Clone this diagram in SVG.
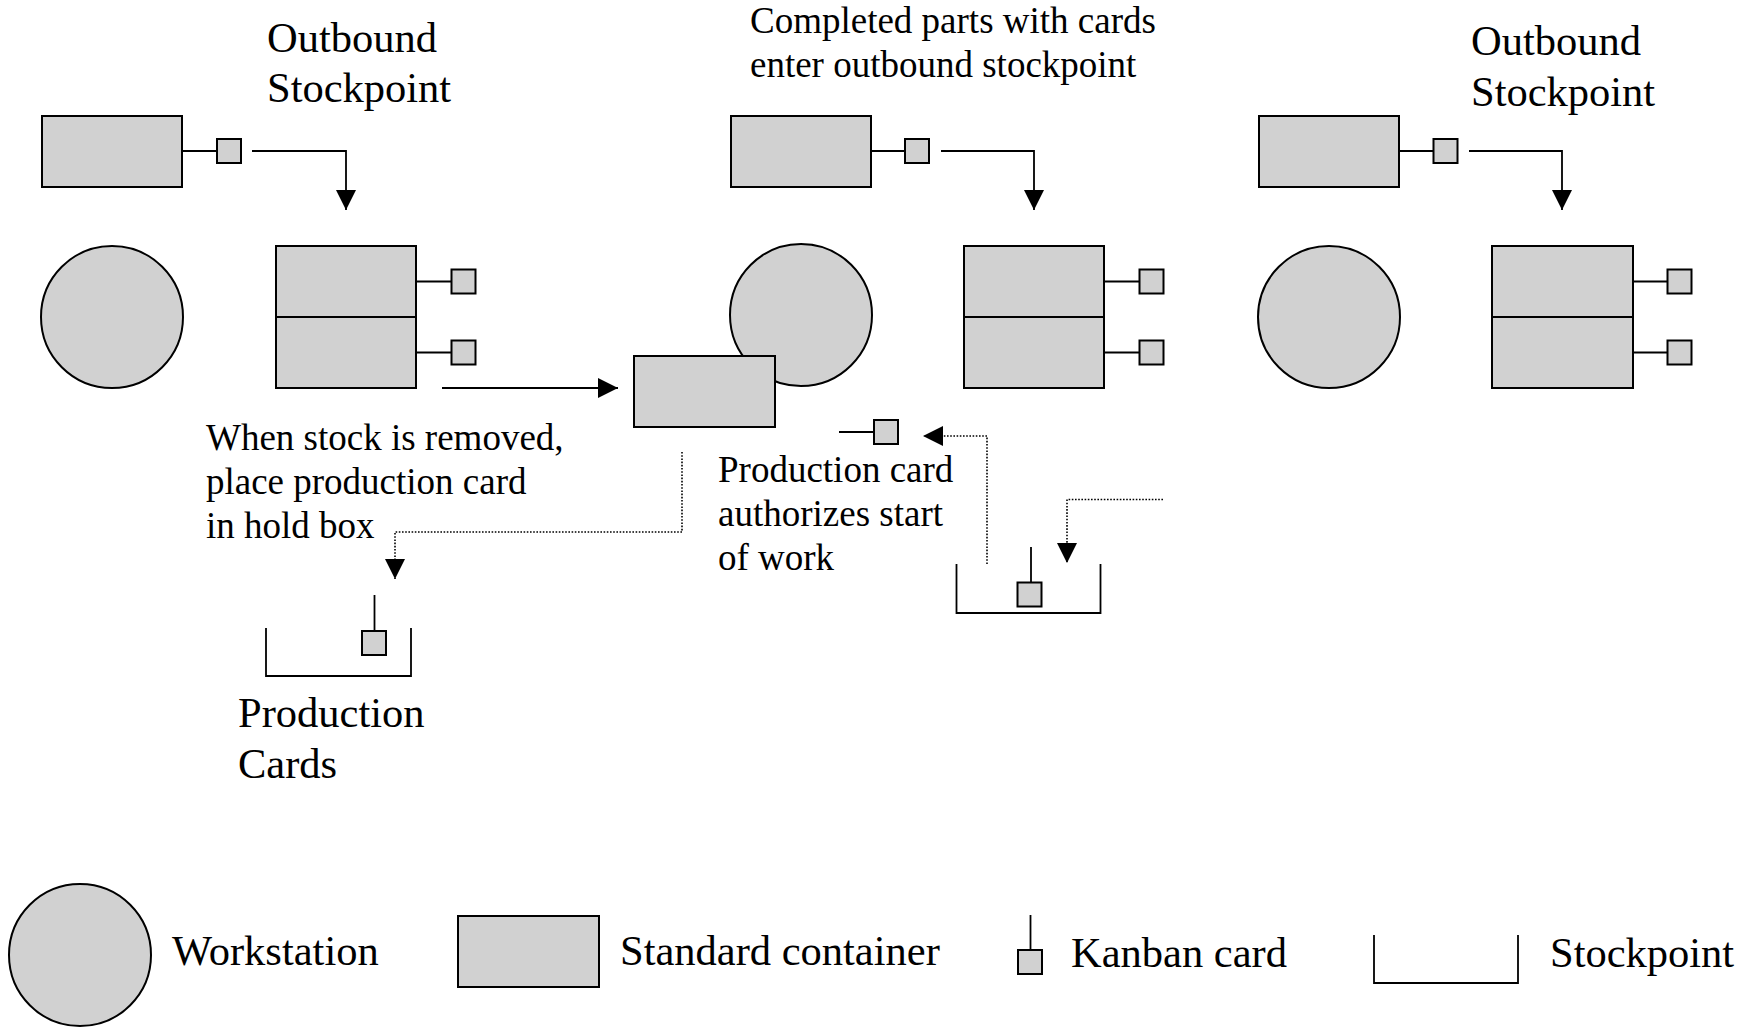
<svg xmlns="http://www.w3.org/2000/svg" width="1746" height="1032" viewBox="0 0 1746 1032">
  <style>
    .box { fill: #d1d1d1; stroke: #000; stroke-width: 2; }
    .ln { fill: none; stroke: #000; stroke-width: 1.8; }
    .dot { fill: none; stroke: #000; stroke-width: 1.6; stroke-dasharray: 1.6 1.6; }
    .t { font-family: "Liberation Serif", "Times New Roman", serif; fill: #000; }
    .big { font-size: 42.5px; }
    .mid { font-size: 37px; }
  </style>
  <defs>
    <marker id="head" viewBox="0 0 20 20" refX="20" refY="10" markerWidth="20" markerHeight="20" markerUnits="userSpaceOnUse" orient="auto">
      <path d="M0,0 L20,10 L0,20 Z" fill="#000"/>
    </marker>
  </defs>
  <rect width="1746" height="1032" fill="#fff"/>

  <!-- Station 1 -->
  <g id="ws1-container">
    <rect class="box" x="42" y="116" width="140" height="71"/>
    <line class="ln" x1="182" y1="151" x2="217" y2="151"/>
    <rect class="box" x="217" y="139" width="24" height="24"/>
  </g>
  <g id="ws1">
    <circle class="box" cx="112" cy="317" r="71"/>
  </g>
  <g id="ws1-stockpoint">
    <rect class="box" x="276" y="246" width="140" height="71"/>
    <rect class="box" x="276" y="317" width="140" height="71"/>
    <line class="ln" x1="416" y1="281.5" x2="451.5" y2="281.5"/>
    <rect class="box" x="451.5" y="269.5" width="24" height="24"/>
    <line class="ln" x1="416" y1="352.5" x2="451.5" y2="352.5"/>
    <rect class="box" x="451.5" y="340.5" width="24" height="24"/>
  </g>
  <g id="label-outbound-1">
    <text class="t big" x="267" y="52">Outbound</text>
    <text class="t big" x="267" y="102">Stockpoint</text>
  </g>

  <!-- Station 2 -->
  <g id="ws2-container">
    <rect class="box" x="731" y="116" width="140" height="71"/>
    <line class="ln" x1="871" y1="151" x2="905" y2="151"/>
    <rect class="box" x="905" y="139" width="24" height="24"/>
  </g>
  <g id="ws2">
    <circle class="box" cx="801" cy="315" r="71"/>
  </g>
  <g id="ws2-input-container">
    <rect class="box" x="634" y="356" width="141" height="71"/>
  </g>
  <g id="ws2-stockpoint">
    <rect class="box" x="964" y="246" width="140" height="71"/>
    <rect class="box" x="964" y="317" width="140" height="71"/>
    <line class="ln" x1="1104" y1="281.5" x2="1139.5" y2="281.5"/>
    <rect class="box" x="1139.5" y="269.5" width="24" height="24"/>
    <line class="ln" x1="1104" y1="352.5" x2="1139.5" y2="352.5"/>
    <rect class="box" x="1139.5" y="340.5" width="24" height="24"/>
  </g>
  <g id="label-completed">
    <text class="t mid" x="750" y="33">Completed parts with cards</text>
    <text class="t mid" x="750" y="77">enter outbound stockpoint</text>
  </g>
  <g id="ws2-card">
    <line class="ln" x1="839" y1="432" x2="874" y2="432"/>
    <rect class="box" x="874" y="420" width="24" height="24"/>
  </g>
  <g id="label-authorizes">
    <text class="t mid" x="718" y="482">Production card</text>
    <text class="t mid" x="718" y="526">authorizes start</text>
    <text class="t mid" x="718" y="570">of work</text>
  </g>
  <g id="hold-box-2">
    <path class="ln" d="M956.5,564 V613 H1100.5 V564"/>
    <line class="ln" x1="1031" y1="547" x2="1031" y2="582.5"/>
    <rect class="box" x="1017.5" y="582.5" width="24" height="24"/>
  </g>

  <!-- Station 3 -->
  <g id="ws3-container">
    <rect class="box" x="1259" y="116" width="140" height="71"/>
    <line class="ln" x1="1399" y1="151" x2="1433.5" y2="151"/>
    <rect class="box" x="1433.5" y="139" width="24" height="24"/>
  </g>
  <g id="ws3">
    <circle class="box" cx="1329" cy="317" r="71"/>
  </g>
  <g id="ws3-stockpoint">
    <rect class="box" x="1492" y="246" width="141" height="71"/>
    <rect class="box" x="1492" y="317" width="141" height="71"/>
    <line class="ln" x1="1633" y1="281.5" x2="1667.5" y2="281.5"/>
    <rect class="box" x="1667.5" y="269.5" width="24" height="24"/>
    <line class="ln" x1="1633" y1="352.5" x2="1667.5" y2="352.5"/>
    <rect class="box" x="1667.5" y="340.5" width="24" height="24"/>
  </g>
  <g id="label-outbound-3">
    <text class="t big" x="1471" y="55">Outbound</text>
    <text class="t big" x="1471" y="106">Stockpoint</text>
  </g>

  <!-- Production card hold box -->
  <g id="label-removed">
    <text class="t mid" x="206" y="450">When stock is removed,</text>
    <text class="t mid" x="206" y="494">place production card</text>
    <text class="t mid" x="206" y="538">in hold box</text>
  </g>
  <g id="hold-box-1">
    <path class="ln" d="M266,628 V676 H411 V628"/>
    <line class="ln" x1="374.5" y1="595" x2="374.5" y2="631"/>
    <rect class="box" x="362" y="631" width="24" height="24"/>
  </g>
  <g id="label-production-cards">
    <text class="t big" x="238" y="727">Production</text>
    <text class="t big" x="238" y="778">Cards</text>
  </g>

  <!-- Connectors -->
  <g id="connectors">
    <path class="ln" d="M252,151 H346 V210" marker-end="url(#head)"/>
    <path class="ln" d="M941,151 H1034 V210" marker-end="url(#head)"/>
    <path class="ln" d="M1469,151 H1562 V210" marker-end="url(#head)"/>
    <path class="ln" d="M442,388 H618" marker-end="url(#head)"/>
    <path class="dot" d="M682,452 V532 H395 V579" marker-end="url(#head)"/>
    <path class="dot" d="M987,564 V436 H923" marker-end="url(#head)"/>
    <path class="dot" d="M1163,499.5 H1067 V563" marker-end="url(#head)"/>
  </g>

  <!-- Legend -->
  <g id="legend-workstation">
    <circle class="box" cx="80" cy="955" r="71"/>
    <text class="t big" x="172" y="965">Workstation</text>
  </g>
  <g id="legend-container">
    <rect class="box" x="458" y="916" width="141" height="71"/>
    <text class="t big" x="620" y="965">Standard container</text>
  </g>
  <g id="legend-kanban">
    <line class="ln" x1="1030.5" y1="915" x2="1030.5" y2="950"/>
    <rect class="box" x="1018" y="950" width="24" height="24"/>
    <text class="t big" x="1071" y="967">Kanban card</text>
  </g>
  <g id="legend-stockpoint">
    <path class="ln" d="M1374,935 V983 H1518 V935"/>
    <text class="t big" x="1550" y="967">Stockpoint</text>
  </g>
</svg>
